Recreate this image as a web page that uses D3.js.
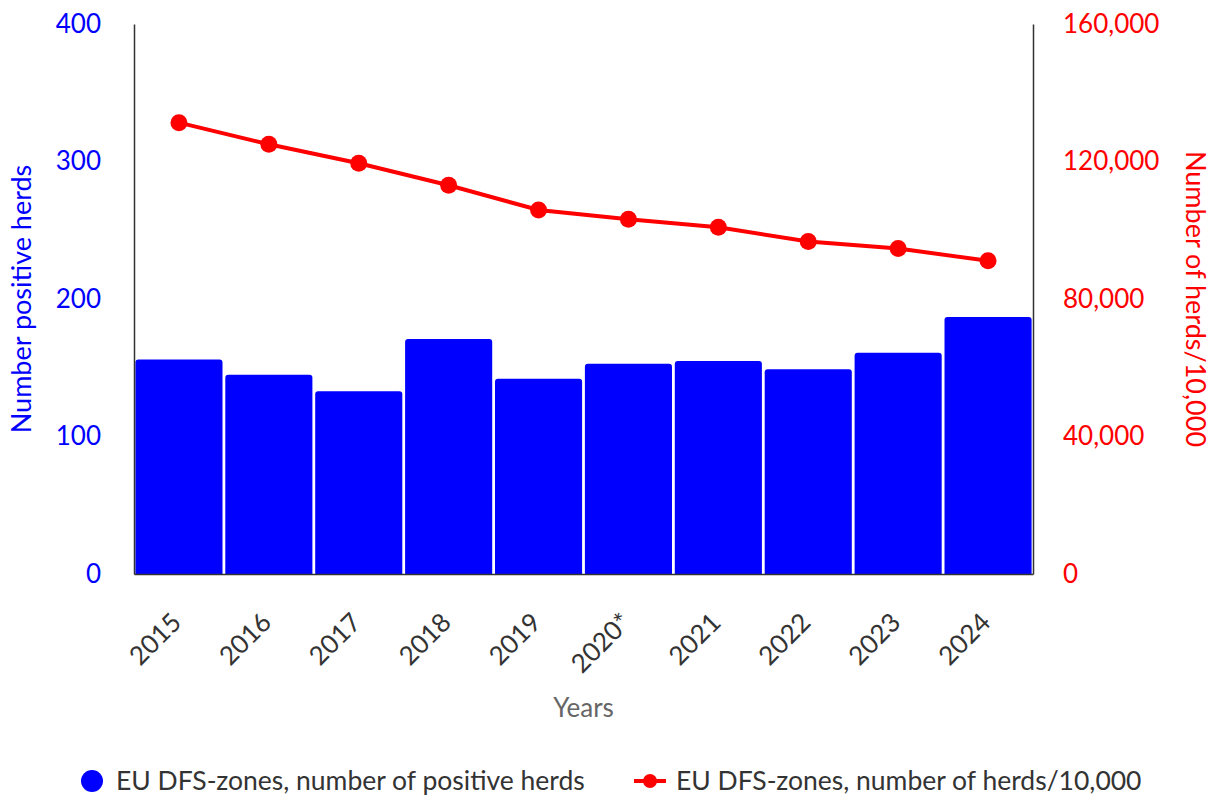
<!DOCTYPE html>
<html>
<head>
<meta charset="utf-8">
<script src="https://cdn.jsdelivr.net/npm/d3@7"></script>
<style>
  body { margin: 0; background: #fff; }
  svg, svg text { font-family: Lato, "Open Sans", sans-serif; }
</style>
</head>
<body>
<svg id="drawing_region"></svg>
<script>
// data
var years = ['2015', '2016', '2017', '2018', '2019', '2020*', '2021', '2022', '2023', '2024']
var positiveHerds = [156, 145, 133, 171, 142, 153, 155, 149, 161, 187]
var herdsPer10000 = [131300, 125000, 119500, 113100, 105900, 103200, 100900, 96700, 94700, 91100]
var leftTicks = [0, 100, 200, 300, 400]
var rightTicks = [0, 40000, 80000, 120000, 160000]

var config = {
  parent: '#drawing_region',
  width: 1215,
  height: 798,
  margin: {top: 24, right: 182, bottom: 224, left: 134}
}

const svg = d3.select(config.parent)
  .attr('width', config.width)
  .attr('height', config.height)

const inner_width = config.width - config.margin.left - config.margin.right
const inner_height = config.height - config.margin.top - config.margin.bottom

const chart = svg.append('g')
  .attr('transform', `translate(${config.margin.left}, ${config.margin.top})`)

const xscale = d3.scaleBand()
  .domain(years)
  .range([0, inner_width])
  .padding(0)

const yleft = d3.scaleLinear()
  .domain([0, 400])
  .range([inner_height, 0])

const yright = d3.scaleLinear()
  .domain([0, 160000])
  .range([inner_height, 0])

// bars with rounded top corners
const r = 3
const gap = 1.4
chart.selectAll('path.bar')
  .data(years)
  .join('path')
  .attr('class', 'bar')
  .attr('fill', '#0000ff')
  .attr('d', (d, i) => {
    const x0 = xscale(d) + gap, x1 = xscale(d) + xscale.bandwidth() - gap
    const y0 = yleft(positiveHerds[i]), yb = yleft(0)
    return `M${x0},${yb}V${y0 + r}Q${x0},${y0} ${x0 + r},${y0}H${x1 - r}Q${x1},${y0} ${x1},${y0 + r}V${yb}Z`
  })

// left axis
const leftAxis = chart.append('g')
  .call(d3.axisLeft(yleft).tickValues(leftTicks).tickSize(0).tickPadding(33))
leftAxis.attr('font-family', null)
leftAxis.select('.domain').attr('stroke', '#333').attr('stroke-width', 1.5)
leftAxis.selectAll('text').attr('fill', '#0000ff').style('font-size', '26px')

// right axis
const rightAxis = chart.append('g')
  .attr('transform', `translate(${inner_width}, 0)`)
  .call(d3.axisRight(yright).tickValues(rightTicks).tickSize(0).tickPadding(30).tickFormat(d3.format(',')))
rightAxis.attr('font-family', null)
rightAxis.select('.domain').attr('stroke', '#333').attr('stroke-width', 1.5)
rightAxis.selectAll('text').attr('fill', '#ff0000').style('font-size', '26px')

// bottom axis
const bottomAxis = chart.append('g')
  .attr('transform', `translate(0, ${inner_height})`)
  .call(d3.axisBottom(xscale).tickSize(0).tickPadding(0))
bottomAxis.attr('font-family', null)
bottomAxis.select('.domain').attr('stroke', '#333').attr('stroke-width', 1.5)
bottomAxis.selectAll('text')
  .attr('fill', '#333')
  .style('font-size', '26px')
  .attr('text-anchor', 'end')
  .attr('dy', 0)
  .attr('transform', 'translate(4, 50) rotate(-45)')

// line series
const line = d3.line()
  .x((d, i) => xscale(years[i]) + xscale.bandwidth() / 2)
  .y(d => yright(d))

chart.append('path')
  .datum(herdsPer10000)
  .attr('fill', 'none')
  .attr('stroke', '#ff0000')
  .attr('stroke-width', 4)
  .attr('d', line)

chart.selectAll('circle.dot')
  .data(herdsPer10000)
  .join('circle')
  .attr('class', 'dot')
  .attr('cx', (d, i) => xscale(years[i]) + xscale.bandwidth() / 2)
  .attr('cy', d => yright(d))
  .attr('r', 8.5)
  .attr('fill', '#ff0000')

// axis titles
svg.append('text')
  .attr('transform', `translate(31, ${config.margin.top + inner_height / 2}) rotate(-90)`)
  .attr('text-anchor', 'middle')
  .attr('fill', '#0000ff')
  .style('font-size', '27px')
  .text('Number positive herds')

svg.append('text')
  .attr('transform', `translate(1186, ${config.margin.top + inner_height / 2}) rotate(90)`)
  .attr('text-anchor', 'middle')
  .attr('fill', '#ff0000')
  .style('font-size', '27px')
  .text('Number of herds/10,000')

svg.append('text')
  .attr('x', config.margin.left + inner_width / 2)
  .attr('y', 717)
  .attr('text-anchor', 'middle')
  .attr('fill', '#666')
  .style('font-size', '26px')
  .text('Years')

// legend
const legend = svg.append('g').attr('transform', 'translate(0, 781)')
legend.append('circle').attr('cx', 92).attr('cy', 0).attr('r', 11).attr('fill', '#0000ff')
legend.append('text').attr('x', 116).attr('y', 0).attr('dy', '0.35em')
  .attr('fill', '#333').style('font-size', '26.5px')
  .text('EU DFS-zones, number of positive herds')
legend.append('line').attr('x1', 634).attr('x2', 666).attr('y1', 0).attr('y2', 0)
  .attr('stroke', '#ff0000').attr('stroke-width', 4)
legend.append('circle').attr('cx', 650).attr('cy', 0).attr('r', 7).attr('fill', '#ff0000')
legend.append('text').attr('x', 676).attr('y', 0).attr('dy', '0.35em')
  .attr('fill', '#333').style('font-size', '26.5px')
  .text('EU DFS-zones, number of herds/10,000')
</script>
</body>
</html>
